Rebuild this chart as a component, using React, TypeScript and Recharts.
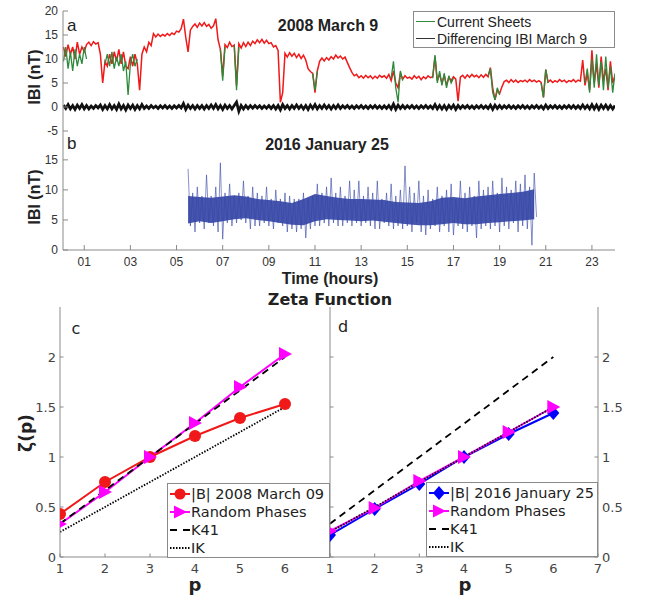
import React from "react";
import { LineChart, ComposedChart, Line, Area, XAxis, YAxis, Legend } from "recharts";

const AXIS = "#8a8a8a";
const SANS = "'Liberation Sans', Arial, sans-serif";
const DEJAVU = "'DejaVu Sans', sans-serif";
const RED = "#f01818";
const GREEN = "#2d8a3c";
const BLUE = "#3646a6";
const MAGENTA = "#ff00ff";

// 2008 March 9: |B| every 0.1 h, 0.1 ... 24.0 h (one row per hour)
const bMarch9 = [
  12.5, 10.5, 13, 11, 12.5, 10, 13.5, 11, 12.5, 11.5,
  13, 13.5, 12.8, 13.6, 13.1, 13.4, 11, 5, 9.5, 8.5,
  11, 9, 11.5, 9.5, 12, 9, 11.5, 8.5, 8, 10.5,
  8.5, 11, 9, 3.5, 11, 12.5, 11.5, 13.5, 12.8, 15.3,
  14.6, 15.2, 14.7, 15.1, 14.8, 15.3, 14.9, 15.4, 15.1, 15.8,
  15.6, 16.3, 18.3, 14.5, 11.5, 16, 16.8, 17.3, 16.6, 17.5,
  16.9, 17.6, 16.8, 17.2, 16.4, 16.9, 18.4, 14, 12, 6.5,
  13, 12.4, 13.5, 12.6, 12.9, 4.5, 13.2, 12.3, 13.4, 12.6,
  13.5, 12.8, 13.7, 13.2, 14, 13.4, 14.1, 13.3, 13.9, 13.2,
  13.4, 12.5, 12.8, 11.8, 1, 3, 11.2, 10.4, 11.3, 10.6,
  11.2, 10.3, 11, 10.1, 10.8, 9.8, 8, 7.4, 7, 3,
  7.5, 9.5, 10.2, 9.6, 10.3, 9.8, 10.5, 10, 10.8, 10.2,
  10.6, 10, 10.4, 9.3, 8.2, 7.2, 6.5, 6.8, 6.1, 6.5,
  6, 6.6, 6.1, 6.5, 5.9, 6.4, 6, 6.6, 6.2, 6.5,
  6, 6.8, 5.5, 7.5, 5, 4, 7, 5.8, 6.5, 6,
  6.2, 5.8, 6.5, 6, 6.4, 5.7, 6.3, 5.9, 6.5, 6.1,
  6.3, 10.5, 5.5, 6.8, 5, 6.6, 4.5, 6.2, 5.5, 6.3,
  5.8, 1.2, 6.2, 6.6, 6, 6.7, 6.2, 6.8, 6.3, 6.6,
  6.1, 6.7, 6.2, 6.8, 6.3, 8.2, 4, 1.5, 3.5, 2.8,
  4.2, 5.3, 5.6, 5.1, 5.7, 5.2, 5.6, 5.1, 5.5, 5.3,
  5.6, 5.2, 5.7, 5.3, 5.6, 5.2, 5.5, 5.1, 2, 7.8,
  5.2, 5.6, 5.1, 5.5, 5.2, 5.7, 5.3, 5.6, 5.1, 5.5,
  5.3, 5.7, 5.2, 5.6, 5.4, 9.8, 4.5, 7, 3.5, 11.8,
  5, 9, 4, 10.5, 5.5, 8, 3.5, 9.5, 5, 6.5,
];

// differenced |B|, same time grid
const diffMarch9 = [
  0.4, -0.3, 0.5, -0.4, 0.3, -0.5, 0.4, -0.3, 0.5, -0.4,
  0.3, -0.4, 0.2, -0.3, 0.3, -0.2, 0.4, -0.5, 0.3, -0.4,
  0.5, -0.4, 0.3, -0.5, 0.6, -0.4, 0.3, -0.6, 0.4, -0.3,
  0.4, -0.5, 0.3, -0.4, 0.5, -0.3, 0.2, -0.3, 0.3, -0.2,
  0.2, -0.3, 0.25, -0.2, 0.3, -0.25, 0.2, -0.3, 0.25, -0.2,
  0.3, -0.2, 0.7, -0.5, 0.4, -0.3, 0.3, -0.4, 0.3, -0.3,
  0.3, -0.4, 0.3, -0.3, 0.4, -0.3, 0.5, -0.4, 0.3, -0.5,
  0.4, -0.3, 0.3, -0.4, 0.3, 1.0, -0.9, 0.3, -0.4, 0.3,
  -0.3, 0.3, -0.25, 0.3, -0.2, 0.25, -0.3, 0.2, -0.25, 0.3,
  -0.3, 0.3, -0.4, 0.3, -0.6, 0.5, -0.3, 0.3, -0.4, 0.3,
  -0.3, 0.4, -0.3, 0.3, -0.4, 0.3, -0.5, 0.4, -0.3, 0.5,
  -0.4, 0.3, -0.3, 0.4, -0.3, 0.3, -0.4, 0.3, -0.3, 0.4,
  -0.3, 0.25, -0.2, 0.3, -0.25, 0.2, -0.3, 0.25, -0.2, 0.3,
  -0.25, 0.2, -0.3, 0.25, -0.2, 0.3, -0.25, 0.2, -0.3, 0.25,
  -0.3, 0.3, -0.4, 0.6, -0.5, 0.4, -0.3, 0.3, -0.3, 0.25,
  -0.2, 0.3, -0.25, 0.2, -0.3, 0.25, -0.2, 0.3, -0.25, 0.2,
  -0.3, 0.5, -0.4, 0.3, -0.4, 0.3, -0.5, 0.3, -0.3, 0.4,
  -0.5, 0.3, -0.3, 0.25, -0.2, 0.3, -0.25, 0.2, -0.3, 0.25,
  -0.2, 0.3, -0.25, 0.2, -0.3, 0.4, -0.5, 0.4, -0.3, 0.3,
  -0.3, 0.25, -0.2, 0.3, -0.25, 0.2, -0.3, 0.25, -0.2, 0.3,
  -0.25, 0.2, -0.3, 0.25, -0.2, 0.3, -0.25, 0.2, -0.4, 0.4,
  -0.3, 0.25, -0.2, 0.3, -0.25, 0.2, -0.3, 0.25, -0.2, 0.3,
  -0.25, 0.3, -0.3, 0.25, -0.3, 0.4, -0.3, 0.3, -0.4, 0.5,
  -0.4, 0.4, -0.5, 0.4, -0.3, 0.4, -0.4, 0.3, -0.4, 0.3,
];

// current sheet intervals (start hour, |B| every 0.1 h)
const currentSheets = [
  { from: 0.1, values: [9.5, 12.5, 8, 11.5, 7.5, 12, 8.5, 11, 9, 12.5, 10] },
  { from: 1.9, values: [9, 11, 8.5, 11.5, 8, 10.5, 8.5, 11, 7.5, 9.5, 2.5, 9, 11, 8.5, 10] },
  { from: 6.9, values: [12, 5.5, 12.5] },
  { from: 7.5, values: [12.8, 3.5, 12.5] },
  { from: 10.9, values: [7, 3.5, 7.5] },
  { from: 14.3, values: [6, 9.5, 4, 1, 7.5, 5.5] },
  { from: 16.1, values: [6, 10.8, 5, 7.5, 4.5, 7, 4, 6.5, 5, 6] },
  { from: 18.5, values: [6.5, 8, 3, 1.5, 4, 2.5] },
  { from: 20.8, values: [5, 2, 7.8, 5] },
  { from: 22.7, values: [5, 8, 3, 10, 4, 11, 4.5, 9.5, 3.5, 10.5, 4, 8.5, 3, 7] },
];

// 2016 January 25: |B| every 0.1 h from 5.5 h to 20.6 h
const jan25Start = 5.5;
const bJan25 = [
  13.5, 4, 9.5, 3, 10.5, 4.5, 9, 3.5, 12.5, 4.5, 9,
  4, 10.5, 3, 14.5, 1.8, 9.5, 4.5, 11, 4, 9,
  4.5, 9.5, 5, 11.5, 4.5, 9, 3.5, 10.5, 4, 9.5,
  4, 9, 4.5, 10.5, 4, 8.5, 3.5, 10, 4.5, 8.5,
  4, 9.5, 3, 9, 3.5, 8.5, 3, 8.5, 3.5, 9.5,
  2, 8.5, 3.5, 9, 4, 11, 4, 9.5, 4.5, 10.5,
  4, 12, 4.5, 9.5, 4, 10.5, 4, 9, 4.5, 11.5,
  4, 10, 4.5, 11.5, 4, 9, 4.5, 10.5, 4, 9.5,
  3.5, 11.5, 3.5, 8.5, 4.5, 9.5, 4, 11, 3.5, 9,
  4, 10, 3.5, 14, 4, 10.5, 3, 9.5, 4.5, 11.5,
  3, 9, 2.5, 10, 3.5, 8.5, 4, 10.5, 3, 9,
  4, 10, 3, 11, 2.5, 8.5, 4, 11.5, 3.5, 9.5,
  3, 10.5, 4, 9, 2, 11.5, 3.5, 10, 4, 10.5,
  3.5, 11.5, 4, 9.5, 3, 12, 4, 10.5, 3.5, 10,
  4.5, 11.5, 3, 11, 4, 12.5, 3.5, 10.5, 0.8, 12.8,
  5.5,
];

// dense core of the January 25 signal, every 0.5 h from 5.5 h to 20.5 h
const coreStart = 5.5;
const jan25CoreLow = [
  4.4, 4.8, 4.5, 4.8, 5.1, 5.3, 5.0, 4.8, 4.5, 4.2, 4.1, 4.8, 5.1, 5.0, 4.9, 4.8,
  4.9, 4.7, 4.5, 4.3, 4.1, 4.1, 4.3, 4.5, 4.3, 4.3, 4.5, 4.6, 4.8, 4.9, 5.1,
];
const jan25CoreHigh = [
  9.0, 8.8, 8.7, 8.9, 9.1, 8.9, 8.5, 8.3, 8.1, 7.8, 8.5, 9.3, 9.0, 8.7, 8.5, 8.5,
  8.4, 8.3, 8.0, 7.9, 7.8, 8.1, 8.7, 8.8, 8.6, 8.9, 9.1, 9.3, 9.5, 9.7, 10.1,
];

const hourTicks = [1, 3, 5, 7, 9, 11, 13, 15, 17, 19, 21, 23];
const hourLabels = ["01", "03", "05", "07", "09", "11", "13", "15", "17", "19", "21", "23"];

// zeta(p)
const orders = [1, 2, 3, 4, 5, 6];
const zetaMarch09 = [0.43, 0.75, 1.0, 1.21, 1.39, 1.53];
const randomMarch09 = [0.33, 0.65, 1.0, 1.34, 1.7, 2.03];
const zetaJan25 = [0.22, 0.48, 0.73, 1.0, 1.23, 1.44];
const randomJan25 = [0.26, 0.49, 0.76, 1.0, 1.25, 1.5];
const k41 = [0.333, 0.667, 1.0, 1.333, 1.667, 2.0];
const ik = [0.25, 0.5, 0.75, 1.0, 1.25, 1.5];

const hourAt = (start: number, step: number, i: number) => Math.round((start + i * step) * 10) / 10;

const march9Rows = bMarch9.map((b, i) => ({
  t: hourAt(0.1, 0.1, i),
  b,
  d: diffMarch9[i],
  cs: null as number | null,
}));
currentSheets.forEach((seg) =>
  seg.values.forEach((v, k) => {
    march9Rows[Math.round(seg.from * 10) - 1 + k].cs = v;
  })
);
const jan25Rows = bJan25.map((b, i) => ({ t: hourAt(jan25Start, 0.1, i), b }));
const coreRows = jan25CoreLow.map((lo, i) => ({ t: hourAt(coreStart, 0.5, i), lo, hi: jan25CoreHigh[i] }));
const zetaC = orders.map((p, i) => ({ p, data: zetaMarch09[i], random: randomMarch09[i], k41: k41[i], ik: ik[i] }));
const zetaD = orders.map((p, i) => ({ p, data: zetaJan25[i], random: randomJan25[i], k41: k41[i], ik: ik[i] }));

type Side = "bottom" | "top" | "left" | "right";
interface TickOpts {
  len: number;
  gap?: number;
  label?: (v: number) => string | null;
  size?: number;
  family?: string;
  color?: string;
}

// inward (MATLAB style) ticks, labels outside
function tickFor(side: Side, o: TickOpts) {
  const gap = o.gap ?? 0;
  return (props: any) => {
    const { x, y, payload } = props;
    const label = o.label ? o.label(payload.value) : null;
    const ts = { fontSize: o.size, fontFamily: o.family, fill: o.color ?? "#333" };
    let line: React.ReactNode;
    let text: React.ReactNode = null;
    if (side === "bottom") {
      const ay = y - gap;
      line = <line x1={x} x2={x} y1={ay} y2={ay - o.len} stroke={AXIS} />;
      if (label) text = <text x={x} y={y} dy="0.75em" textAnchor="middle" style={ts}>{label}</text>;
    } else if (side === "top") {
      line = <line x1={x} x2={x} y1={y} y2={y + o.len} stroke={AXIS} />;
    } else if (side === "left") {
      const ax = x + gap;
      line = <line x1={ax} x2={ax + o.len} y1={y} y2={y} stroke={AXIS} />;
      if (label) text = <text x={x} y={y} dy="0.36em" textAnchor="end" style={ts}>{label}</text>;
    } else {
      const ax = x - gap;
      line = <line x1={ax} x2={ax - o.len} y1={y} y2={y} stroke={AXIS} />;
      if (label) text = <text x={x} y={y} dy="0.36em" textAnchor="start" style={ts}>{label}</text>;
    }
    return (
      <g>
        {line}
        {text}
      </g>
    );
  };
}

const axisCommon = { tickSize: 0, tickLine: false, axisLine: { stroke: AXIS }, interval: 0 as const, allowDataOverflow: true };

const hourLabel = (v: number) => hourLabels[hourTicks.indexOf(v)];

function LegendA() {
  const row = { display: "flex", alignItems: "center", height: 17 };
  return (
    <div style={{ width: 202, height: 37, boxSizing: "border-box", border: `1px solid ${AXIS}`, background: "#fff", fontFamily: SANS, fontSize: 14, color: "#222", paddingTop: 1 }}>
      <div style={row}>
        <svg width={22} height={17}><line x1={2} x2={21} y1={8.5} y2={8.5} stroke={GREEN} /></svg>
        <span style={{ marginLeft: 1 }}>Current Sheets</span>
      </div>
      <div style={row}>
        <svg width={22} height={17}><line x1={2} x2={21} y1={8.5} y2={8.5} stroke="#333" /></svg>
        <span style={{ marginLeft: 1 }}>Differencing IBI March 9</span>
      </div>
    </div>
  );
}

function ZetaLegend({ dataLabel, color, marker, width }: { dataLabel: string; color: string; marker: "circle" | "diamond"; width: number }) {
  const row = { display: "flex", alignItems: "center", height: 18 };
  return (
    <div style={{ width, height: 75, boxSizing: "border-box", border: `1px solid ${AXIS}`, background: "#fff", fontFamily: DEJAVU, fontSize: 14.5, color: "#222", paddingTop: 1 }}>
      <div style={row}>
        <svg width={23} height={18}>
          <line x1={2} x2={22} y1={9} y2={9} stroke={color} strokeWidth={2} />
          {marker === "circle" ? (
            <circle cx={12} cy={9} r={5.5} fill={color} />
          ) : (
            <polygon points="12,2 18,9 12,16 6,9" fill={color} />
          )}
        </svg>
        <span>{dataLabel}</span>
      </div>
      <div style={row}>
        <svg width={23} height={18}>
          <line x1={2} x2={22} y1={9} y2={9} stroke={MAGENTA} strokeWidth={2} />
          <polygon points="6,2.5 6,15.5 19,9" fill={MAGENTA} />
        </svg>
        <span>Random Phases</span>
      </div>
      <div style={row}>
        <svg width={23} height={18}>
          <line x1={2} x2={22} y1={9} y2={9} stroke="#000" strokeWidth={2} strokeDasharray="7 6" />
        </svg>
        <span>K41</span>
      </div>
      <div style={row}>
        <svg width={23} height={18}>
          <line x1={2} x2={22} y1={9} y2={9} stroke="#000" strokeWidth={2} strokeDasharray="1.5 1.5" />
        </svg>
        <span>IK</span>
      </div>
    </div>
  );
}

const circleDot = (color: string) => (p: any) => <circle key={`c${p.index}`} cx={p.cx} cy={p.cy} r={6} fill={color} />;
const diamondDot = (color: string) => (p: any) => (
  <polygon key={`d${p.index}`} points={`${p.cx},${p.cy - 7} ${p.cx + 6},${p.cy} ${p.cx},${p.cy + 7} ${p.cx - 6},${p.cy}`} fill={color} />
);
const triangleDot = (p: any) => (
  <polygon key={`t${p.index}`} points={`${p.cx - 6},${p.cy - 7} ${p.cx - 6},${p.cy + 7} ${p.cx + 7},${p.cy}`} fill={MAGENTA} />
);

const legendPos = (left: number, top: number, width: number, height: number) => ({
  position: "absolute" as const,
  left,
  top,
  width,
  height,
  right: "auto",
  bottom: "auto",
});

export default function App() {
  const hourAxisX = { dataKey: "t", type: "number" as const, domain: [0.08, 24], ticks: hourTicks };
  const zetaAxisX = { dataKey: "p", type: "number" as const, domain: [1, 7], ticks: [1, 2, 3, 4, 5, 6, 7] };
  const zetaY = { type: "number" as const, domain: [0, 2.5], ticks: [0, 0.5, 1, 1.5, 2] };
  const lab12 = { size: 12, family: SANS, color: "#333" };
  const lab13 = { size: 13, family: DEJAVU, color: "#444" };

  return (
    <div style={{ position: "absolute", left: 0, top: 0, width: 645, height: 598, background: "#fff" }}>
      {/* panel a */}
      <div style={{ position: "absolute", left: 0, top: 0 }}>
        <LineChart width={645} height={142} data={march9Rows} margin={{ top: 11, right: 30, bottom: 11, left: 0 }}>
          <XAxis {...hourAxisX} {...axisCommon} height={0} tickMargin={0} tick={tickFor("bottom", { len: 5 })} />
          <XAxis {...hourAxisX} {...axisCommon} xAxisId="top" orientation="top" height={0} tickMargin={0} tick={tickFor("top", { len: 5 })} />
          <YAxis type="number" domain={[-5, 20]} ticks={[-5, 0, 5, 10, 15, 20]} {...axisCommon} width={63} tickMargin={5} tick={tickFor("left", { len: 5, gap: 5, label: (v) => String(v), ...lab12 })} />
          <YAxis yAxisId="right" orientation="right" type="number" domain={[-5, 20]} ticks={[-5, 0, 5, 10, 15, 20]} {...axisCommon} width={0} tickMargin={0} tick={tickFor("right", { len: 5 })} />
          <Line dataKey="b" stroke={RED} strokeWidth={1.5} dot={false} activeDot={false} isAnimationActive={false} />
          <Line dataKey="cs" stroke={GREEN} strokeWidth={1.3} dot={false} activeDot={false} connectNulls={false} isAnimationActive={false} />
          <Line dataKey="d" stroke="#111" strokeWidth={2.8} dot={false} activeDot={false} isAnimationActive={false} />
          <Legend layout="vertical" align="center" verticalAlign="middle" wrapperStyle={legendPos(413, 11, 202, 37)} content={() => <LegendA />} />
        </LineChart>
      </div>

      {/* panel b */}
      <div style={{ position: "absolute", left: 0, top: 125 }}>
        <ComposedChart width={645} height={165} data={jan25Rows} margin={{ top: 6, right: 30, bottom: 0, left: 0 }}>
          <XAxis {...hourAxisX} {...axisCommon} height={40} tickMargin={7} tick={tickFor("bottom", { len: 5, gap: 7, label: hourLabel, ...lab12 })} />
          <XAxis {...hourAxisX} {...axisCommon} xAxisId="top" orientation="top" height={0} tickMargin={0} tick={tickFor("top", { len: 5 })} />
          <YAxis type="number" domain={[0, 19.8]} ticks={[0, 5, 10, 15]} {...axisCommon} width={63} tickMargin={5} tick={tickFor("left", { len: 5, gap: 5, label: (v) => String(v), ...lab12 })} />
          <YAxis yAxisId="right" orientation="right" type="number" domain={[0, 19.8]} ticks={[0, 5, 10, 15]} {...axisCommon} width={0} tickMargin={0} tick={tickFor("right", { len: 5 })} />
          <Area data={coreRows} dataKey={(r: any) => [r.lo, r.hi]} type="linear" stroke="none" fill={BLUE} fillOpacity={0.92} dot={false} activeDot={false} isAnimationActive={false} />
          <Line dataKey="b" stroke={BLUE} strokeOpacity={0.6} strokeWidth={1} dot={false} activeDot={false} isAnimationActive={false} />
        </ComposedChart>
      </div>

      {/* panel c */}
      <div style={{ position: "absolute", left: 0, top: 280 }}>
        <LineChart width={340} height={317} data={zetaC} margin={{ top: 27, right: 10, bottom: 0, left: 0 }}>
          <XAxis {...zetaAxisX} {...axisCommon} height={40} tickMargin={6} tick={tickFor("bottom", { len: 3.5, gap: 6, label: (v) => (v < 7 ? String(v) : null), ...lab13 })} />
          <XAxis {...zetaAxisX} {...axisCommon} xAxisId="top" orientation="top" height={0} tickMargin={0} tick={tickFor("top", { len: 3.5 })} />
          <YAxis {...zetaY} {...axisCommon} width={60} tickMargin={4} tick={tickFor("left", { len: 3.5, gap: 4, label: (v) => String(v), ...lab13 })} />
          <YAxis {...zetaY} {...axisCommon} yAxisId="right" orientation="right" width={0} tickMargin={0} tick={tickFor("right", { len: 3.5 })} />
          <Line dataKey="data" stroke={RED} strokeWidth={2} dot={circleDot(RED)} activeDot={false} isAnimationActive={false} />
          <Line dataKey="random" stroke={MAGENTA} strokeWidth={2} dot={triangleDot} activeDot={false} isAnimationActive={false} />
          <Line dataKey="k41" stroke="#000" strokeWidth={1.8} strokeDasharray="7 5" dot={false} activeDot={false} isAnimationActive={false} />
          <Line dataKey="ik" stroke="#000" strokeWidth={1.8} strokeDasharray="1.5 1.5" dot={false} activeDot={false} isAnimationActive={false} />
          <Legend layout="vertical" align="center" verticalAlign="middle" wrapperStyle={legendPos(167, 203, 163, 75)}
            content={() => <ZetaLegend dataLabel="|B| 2008 March 09" color={RED} marker="circle" width={163} />} />
        </LineChart>
      </div>

      {/* panel d */}
      <div style={{ position: "absolute", left: 300, top: 280 }}>
        <LineChart width={345} height={317} data={zetaD} margin={{ top: 27, right: 7, bottom: 0, left: 0 }}>
          <XAxis {...zetaAxisX} {...axisCommon} height={40} tickMargin={6} tick={tickFor("bottom", { len: 3.5, gap: 6, label: (v) => String(v), ...lab13 })} />
          <XAxis {...zetaAxisX} {...axisCommon} xAxisId="top" orientation="top" height={0} tickMargin={0} tick={tickFor("top", { len: 3.5 })} />
          <YAxis {...zetaY} {...axisCommon} width={30} tickMargin={0} tick={tickFor("left", { len: 3.5 })} />
          <YAxis {...zetaY} {...axisCommon} yAxisId="right" orientation="right" width={40} tickMargin={4} tick={tickFor("right", { len: 3.5, gap: 4, label: (v) => String(v), ...lab13 })} />
          <Line dataKey="data" stroke="#0000ff" strokeWidth={2} dot={diamondDot("#0000ff")} activeDot={false} isAnimationActive={false} />
          <Line dataKey="random" stroke={MAGENTA} strokeWidth={2} dot={triangleDot} activeDot={false} isAnimationActive={false} />
          <Line dataKey="k41" stroke="#000" strokeWidth={1.8} strokeDasharray="7 5" dot={false} activeDot={false} isAnimationActive={false} />
          <Line dataKey="ik" stroke="#000" strokeWidth={1.8} strokeDasharray="1.5 1.5" dot={false} activeDot={false} isAnimationActive={false} />
          <Legend layout="vertical" align="center" verticalAlign="middle" wrapperStyle={legendPos(126, 202, 172, 75)}
            content={() => <ZetaLegend dataLabel="|B| 2016 January 25" color="#0000ff" marker="diamond" width={172} />} />
        </LineChart>
      </div>

      {/* titles and axis labels */}
      <svg width={645} height={598} style={{ position: "absolute", left: 0, top: 0, pointerEvents: "none" }}>
        <g fontFamily={SANS} fill="#222">
          <text x={67} y={25} dy="0.35em" fontSize={17}>a</text>
          <text x={328} y={25} dy="0.35em" fontSize={16} fontWeight="bold" textAnchor="middle">2008 March 9</text>
          <text x={67} y={143} dy="0.35em" fontSize={17}>b</text>
          <text x={327} y={144} dy="0.35em" fontSize={16} fontWeight="bold" textAnchor="middle">2016 January 25</text>
          <text transform="translate(34,77) rotate(-90)" dy="0.35em" fontSize={16} fontWeight="bold" textAnchor="middle">IBI (nT)</text>
          <text transform="translate(34,197) rotate(-90)" dy="0.35em" fontSize={16} fontWeight="bold" textAnchor="middle">IBI (nT)</text>
          <text x={330} y={278} dy="0.35em" fontSize={16} fontWeight="bold" textAnchor="middle">Time (hours)</text>
        </g>
        <g fontFamily={DEJAVU} fill="#222">
          <text x={330} y={299} dy="0.35em" fontSize={16} fontWeight="bold" textAnchor="middle">Zeta Function</text>
          <text x={76} y={328} dy="0.35em" fontSize={16} textAnchor="middle">c</text>
          <text x={343} y={326} dy="0.35em" fontSize={16} textAnchor="middle">d</text>
          <text transform="translate(26,433) rotate(-90)" dy="0.35em" fontSize={17} fontWeight="bold" textAnchor="middle">ζ(p)</text>
          <text x={195} y={585} dy="0.35em" fontSize={18} fontWeight="bold" textAnchor="middle">p</text>
          <text x={465} y={585} dy="0.35em" fontSize={18} fontWeight="bold" textAnchor="middle">p</text>
        </g>
      </svg>
    </div>
  );
}
